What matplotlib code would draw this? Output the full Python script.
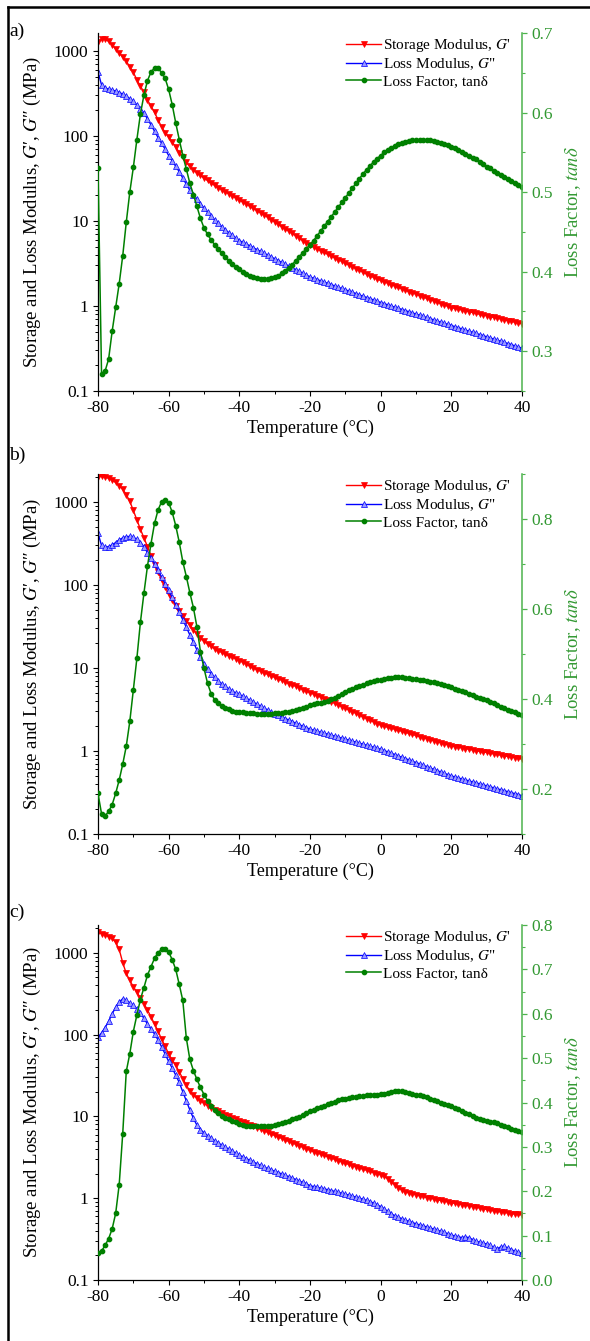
import matplotlib
matplotlib.use("Agg")
import matplotlib.pyplot as plt
from matplotlib.lines import Line2D
from matplotlib.ticker import FixedLocator, LogLocator, MultipleLocator, NullFormatter

plt.rcParams['font.family'] = ['Liberation Serif', 'DejaVu Serif']
plt.rcParams['mathtext.fontset'] = 'stix'
plt.rcParams['axes.unicode_minus'] = False

# temperature grid (deg C), one reading per degree
TEMP = list(range(-80, 41))

# ---- panel a) ----
STORAGE_A = [
    1280, 1370, 1380, 1300, 1180, 1060, 950, 850, 760, 650,
    560, 460, 385, 330, 265, 225, 190, 155, 128, 110,
    97, 85, 74, 64, 56, 49, 44, 40, 37, 34.5,
    32, 30, 28, 26.3, 24.8, 23.4, 22.1, 21.0, 19.8, 18.7,
    17.7, 16.7, 15.8, 14.9, 14.1, 13.3, 12.5, 11.8, 11.1, 10.4,
    9.8, 9.2, 8.6, 8.1, 7.6, 7.15, 6.7, 6.3, 5.9, 5.55,
    5.2, 4.95, 4.7, 4.48, 4.27, 4.07, 3.88, 3.7, 3.52, 3.35,
    3.19, 3.04, 2.9, 2.76, 2.63, 2.5, 2.38, 2.27, 2.17, 2.08,
    2.0, 1.93, 1.86, 1.79, 1.72, 1.66, 1.6, 1.54, 1.48, 1.43,
    1.38, 1.33, 1.28, 1.23, 1.19, 1.15, 1.11, 1.07, 1.03, 0.995,
    0.96, 0.94, 0.92, 0.9, 0.88, 0.86, 0.84, 0.82, 0.8, 0.785,
    0.77, 0.75, 0.735, 0.72, 0.705, 0.69, 0.675, 0.66, 0.645, 0.632,
    0.62]
LOSS_A = [
    570, 400, 370, 355, 348, 338, 325, 312, 295, 275,
    255, 232, 210, 185, 160, 135, 114, 96, 82, 70,
    59, 51, 44, 38, 32, 27, 23, 20.5, 18, 16,
    14.2, 12.7, 11.4, 10.3, 9.4, 8.6, 7.9, 7.3, 6.8, 6.3,
    5.9, 5.6, 5.35, 5.1, 4.85, 4.6, 4.4, 4.18, 3.98, 3.78,
    3.6, 3.43, 3.26, 3.1, 2.96, 2.81, 2.68, 2.55, 2.43, 2.31,
    2.2, 2.125, 2.05, 1.98, 1.915, 1.85, 1.785, 1.725, 1.665, 1.61,
    1.555, 1.5, 1.45, 1.4, 1.35, 1.305, 1.26, 1.22, 1.18, 1.14,
    1.1, 1.066, 1.033, 1.0, 0.97, 0.94, 0.91, 0.883, 0.856, 0.83,
    0.805, 0.78, 0.756, 0.733, 0.71, 0.688, 0.667, 0.646, 0.627, 0.608,
    0.59, 0.572, 0.555, 0.538, 0.522, 0.506, 0.491, 0.476, 0.462, 0.448,
    0.435, 0.422, 0.409, 0.397, 0.385, 0.373, 0.362, 0.351, 0.34, 0.33,
    0.32]
TAND_A = [
    0.53, 0.272, 0.275, 0.29, 0.325, 0.355, 0.385, 0.42, 0.462, 0.50,
    0.531, 0.566, 0.598, 0.622, 0.64, 0.651, 0.656, 0.656, 0.65, 0.643,
    0.629, 0.61, 0.587, 0.566, 0.546, 0.529, 0.511, 0.497, 0.482, 0.467,
    0.455, 0.447, 0.44, 0.434, 0.428, 0.423, 0.419, 0.414, 0.41, 0.406,
    0.403, 0.40, 0.397, 0.395, 0.393, 0.392, 0.391, 0.391, 0.391, 0.392,
    0.393, 0.395, 0.398, 0.401, 0.405, 0.409, 0.414, 0.419, 0.424, 0.429,
    0.434, 0.439, 0.445, 0.451, 0.457, 0.463, 0.469, 0.475, 0.481, 0.487,
    0.493, 0.499, 0.505, 0.511, 0.517, 0.523, 0.528, 0.533, 0.538, 0.542,
    0.546, 0.55, 0.553, 0.556, 0.558, 0.56, 0.562, 0.563, 0.564, 0.565,
    0.565, 0.566, 0.566, 0.565, 0.565, 0.564, 0.563, 0.562, 0.561, 0.559,
    0.557, 0.555, 0.553, 0.551, 0.548, 0.546, 0.543, 0.541, 0.538, 0.535,
    0.532, 0.53, 0.527, 0.524, 0.522, 0.519, 0.516, 0.514, 0.511, 0.509,
    0.506]

# ---- panel b) ----
STORAGE_B = [
    2020, 2030, 2000, 1930, 1830, 1720, 1580, 1420, 1230, 1020,
    790, 610, 470, 370, 290, 225, 175, 143, 116, 95,
    78, 66, 56, 48, 42, 37, 33, 29, 25.5, 23,
    21, 19.5, 18.2, 17.1, 16.2, 15.4, 14.7, 14.1, 13.5, 12.9,
    12.3, 11.7, 11.1, 10.5, 10.0, 9.55, 9.15, 8.75, 8.4, 8.05,
    7.7, 7.4, 7.1, 6.8, 6.5, 6.25, 6.0, 5.75, 5.5, 5.25,
    5.05, 4.85, 4.65, 4.45, 4.28, 4.1, 3.92, 3.75, 3.58, 3.42,
    3.27, 3.12, 2.98, 2.84, 2.71, 2.58, 2.46, 2.35, 2.24, 2.14,
    2.05, 1.99, 1.93, 1.88, 1.83, 1.78, 1.73, 1.68, 1.63, 1.58,
    1.54, 1.49, 1.45, 1.41, 1.37, 1.33, 1.29, 1.26, 1.22, 1.19,
    1.15, 1.13, 1.11, 1.09, 1.07, 1.05, 1.03, 1.01, 0.99, 0.975,
    0.96, 0.94, 0.925, 0.91, 0.89, 0.875, 0.86, 0.845, 0.83, 0.815,
    0.8]
LOSS_B = [
    420, 300, 285, 290, 305, 325, 350, 370, 382, 385,
    375, 355, 325, 290, 245, 210, 180, 150, 125, 104,
    86, 71, 58, 47, 38, 31, 25, 20.5, 16.5, 13.5,
    11.3, 9.6, 8.5, 7.7, 7.0, 6.45, 6.0, 5.6, 5.25, 5.0,
    4.8, 4.55, 4.3, 4.08, 3.87, 3.66, 3.47, 3.29, 3.12, 2.95,
    2.8, 2.68, 2.57, 2.46, 2.36, 2.26, 2.16, 2.07, 1.99, 1.91,
    1.83, 1.78, 1.73, 1.68, 1.64, 1.59, 1.55, 1.51, 1.47, 1.43,
    1.39, 1.35, 1.31, 1.28, 1.24, 1.21, 1.17, 1.14, 1.11, 1.08,
    1.05, 1.01, 0.975, 0.94, 0.905, 0.87, 0.84, 0.81, 0.78, 0.75,
    0.725, 0.7, 0.672, 0.648, 0.624, 0.602, 0.58, 0.558, 0.538, 0.519,
    0.5, 0.487, 0.473, 0.46, 0.448, 0.436, 0.424, 0.413, 0.402, 0.391,
    0.38, 0.37, 0.36, 0.35, 0.341, 0.332, 0.323, 0.314, 0.306, 0.298,
    0.29]
TAND_B = [
    0.19, 0.145, 0.14, 0.15, 0.165, 0.19, 0.22, 0.255, 0.295, 0.35,
    0.42, 0.49, 0.57, 0.635, 0.695, 0.745, 0.79, 0.82, 0.838, 0.843,
    0.836, 0.815, 0.785, 0.748, 0.705, 0.672, 0.636, 0.603, 0.56, 0.505,
    0.468, 0.435, 0.412, 0.398, 0.39, 0.384, 0.38, 0.377, 0.374, 0.372,
    0.371, 0.37, 0.369, 0.368, 0.368, 0.367, 0.367, 0.367, 0.367, 0.367,
    0.368, 0.368, 0.369, 0.37, 0.371, 0.373, 0.375, 0.377, 0.38, 0.383,
    0.386, 0.388, 0.39, 0.392, 0.394, 0.396, 0.399, 0.403, 0.407, 0.411,
    0.415, 0.419, 0.423, 0.426, 0.429, 0.432, 0.435, 0.437, 0.439, 0.441,
    0.443, 0.445, 0.446, 0.447, 0.448, 0.448, 0.448, 0.447, 0.446, 0.445,
    0.444, 0.443, 0.442, 0.44, 0.438, 0.437, 0.435, 0.433, 0.431, 0.429,
    0.426, 0.423, 0.42, 0.417, 0.415, 0.412, 0.408, 0.405, 0.402, 0.4,
    0.397, 0.394, 0.39, 0.386, 0.382, 0.379, 0.376, 0.373, 0.37, 0.367,
    0.364]

# ---- panel c) ----
STORAGE_C = [
    1780, 1720, 1660, 1580, 1500, 1350, 1100, 760, 560, 460,
    385, 330, 282, 240, 200, 165, 135, 110, 88, 72,
    58, 49, 42, 35, 29, 24, 20.5, 18.3, 16.7, 15.5,
    14.5, 13.6, 12.8, 12.1, 11.5, 11.0, 10.5, 10.1, 9.7, 9.3,
    8.9, 8.55, 8.2, 7.85, 7.55, 7.25, 6.95, 6.65, 6.4, 6.1,
    5.85, 5.6, 5.4, 5.15, 4.95, 4.75, 4.55, 4.37, 4.19, 4.02,
    3.85, 3.72, 3.59, 3.46, 3.34, 3.22, 3.1, 2.99, 2.88, 2.78,
    2.68, 2.59, 2.5, 2.42, 2.34, 2.27, 2.2, 2.13, 2.06, 2.0,
    1.93, 1.85, 1.74, 1.6, 1.46, 1.34, 1.26, 1.2, 1.16, 1.13,
    1.1, 1.07, 1.05, 1.02, 1.0, 0.98, 0.96, 0.94, 0.92, 0.9,
    0.88, 0.865, 0.85, 0.835, 0.82, 0.805, 0.79, 0.775, 0.76, 0.745,
    0.73, 0.715, 0.7, 0.69, 0.68, 0.67, 0.66, 0.65, 0.64, 0.635,
    0.625]
LOSS_C = [
    93, 105, 122, 145, 180, 215, 250, 275, 262, 245,
    228, 208, 185, 158, 135, 117, 102, 86, 71, 58,
    47, 39, 32, 26, 20, 15.5, 12, 9.5, 7.8, 6.9,
    6.3, 5.8, 5.4, 5.05, 4.75, 4.45, 4.2, 3.98, 3.75, 3.55,
    3.35, 3.2, 3.05, 2.9, 2.77, 2.64, 2.52, 2.4, 2.31, 2.22,
    2.14, 2.06, 1.98, 1.9, 1.83, 1.76, 1.69, 1.62, 1.56, 1.5,
    1.42, 1.39, 1.36, 1.33, 1.3, 1.27, 1.24, 1.21, 1.18, 1.15,
    1.12, 1.09, 1.06, 1.03, 1.0, 0.97, 0.94, 0.91, 0.87, 0.83,
    0.79, 0.74, 0.69, 0.645, 0.61, 0.585, 0.56, 0.54, 0.52, 0.503,
    0.487, 0.472, 0.459, 0.446, 0.433, 0.42, 0.407, 0.394, 0.381, 0.368,
    0.355, 0.345, 0.337, 0.33, 0.335, 0.33, 0.312, 0.298, 0.29, 0.282,
    0.275, 0.265, 0.25, 0.24, 0.255, 0.258, 0.245, 0.235, 0.225, 0.218,
    0.212]
TAND_C = [
    0.06, 0.065, 0.078, 0.093, 0.115, 0.15, 0.215, 0.33, 0.47, 0.51,
    0.56, 0.597, 0.632, 0.659, 0.687, 0.706, 0.725, 0.738, 0.745, 0.747,
    0.739, 0.722, 0.70, 0.666, 0.63, 0.545, 0.497, 0.472, 0.452, 0.434,
    0.418, 0.404, 0.393, 0.383, 0.376, 0.37, 0.366, 0.362, 0.358, 0.355,
    0.352, 0.35, 0.348, 0.347, 0.346, 0.346, 0.346, 0.346, 0.347, 0.348,
    0.349, 0.351, 0.353, 0.356, 0.359, 0.362, 0.365, 0.368, 0.372, 0.376,
    0.38, 0.383, 0.387, 0.39, 0.393, 0.396, 0.399, 0.402, 0.405, 0.407,
    0.409, 0.411, 0.412, 0.413, 0.414, 0.415, 0.416, 0.417, 0.418, 0.418,
    0.419, 0.42, 0.421, 0.423, 0.425, 0.426, 0.425, 0.424, 0.422, 0.42,
    0.418, 0.416, 0.414, 0.412, 0.409, 0.406, 0.403, 0.4, 0.397, 0.394,
    0.391, 0.388, 0.385, 0.381, 0.377, 0.373, 0.369, 0.366, 0.363, 0.361,
    0.359, 0.357, 0.355, 0.353, 0.35, 0.347, 0.344, 0.341, 0.338, 0.336,
    0.334]

X_TICKS = [-80, -60, -40, -20, 0, 20, 40]
G_TICKS = [0.1, 1, 10, 100, 1000]
G_TICK_LABELS = ['0.1', '1', '10', '100', '1000']
LEGEND_LABELS = ["Storage Modulus, $G$'", 'Loss Modulus, $G$"', 'Loss Factor, tanδ']

RED = '#ff0000'
BLUE = '#0000ff'
GREEN = '#008000'
AXIS_GREEN = '#4db34d'
TEXT_GREEN = '#339933'


def draw_panel(fig, rect, tag, tag_y, storage, loss, tand, g_top, t_lim, t_major, t_minor):
    ax = fig.add_axes(rect)
    ax2 = ax.twinx()

    l1, = ax.plot(TEMP, storage, color=RED, lw=1.0, marker='v', ms=4.0,
                  mfc=RED, mec=RED, mew=0.5)
    l2, = ax.plot(TEMP, loss, color=BLUE, lw=1.0, marker='^', ms=4.0,
                  mfc='#9a9aff', mec=BLUE, mew=0.5)
    l3, = ax2.plot(TEMP, tand, color=GREEN, lw=1.1, marker='o', ms=3.1,
                   mfc=GREEN, mec=GREEN)

    ax.set_yscale('log')
    ax.set_xlim(-80, 40)
    ax.set_ylim(0.1, g_top)
    ax2.set_ylim(*t_lim)

    ax.xaxis.set_major_locator(FixedLocator(X_TICKS))
    ax.xaxis.set_minor_locator(MultipleLocator(10))
    ax.yaxis.set_major_locator(FixedLocator(G_TICKS))
    ax.set_yticklabels(G_TICK_LABELS)
    ax.yaxis.set_minor_locator(LogLocator(base=10, subs=[2, 3, 4, 5, 6, 7, 8, 9]))
    ax.yaxis.set_minor_formatter(NullFormatter())
    ax2.yaxis.set_major_locator(MultipleLocator(t_major))
    ax2.yaxis.set_minor_locator(MultipleLocator(t_minor))

    for a in (ax, ax2):
        a.spines['top'].set_visible(False)
    ax.spines['right'].set_visible(False)
    ax2.spines['left'].set_visible(False)
    ax2.spines['bottom'].set_visible(False)
    ax2.spines['right'].set_color(AXIS_GREEN)
    ax2.spines['right'].set_linewidth(1.1)
    ax.spines['left'].set_linewidth(0.9)
    ax.spines['bottom'].set_linewidth(0.9)

    ax.tick_params(which='major', direction='out', length=3.8, width=0.8,
                   labelsize=12.5, pad=3)
    ax.tick_params(which='minor', direction='out', length=2.2, width=0.7)
    ax2.tick_params(which='major', direction='out', length=3.8, width=0.9,
                    colors=AXIS_GREEN, labelcolor=TEXT_GREEN, labelsize=12.5, pad=3)
    ax2.tick_params(which='minor', direction='out', length=2.2, width=0.8,
                    colors=AXIS_GREEN)

    ax.set_xlabel('Temperature (°C)', fontsize=13, labelpad=2)
    ax.set_ylabel("Storage and Loss Modulus, $G$′, $G$″ (MPa)", fontsize=13.5)
    ax.yaxis.set_label_coords(-0.13, 0.5)
    ax2.set_ylabel(r'Loss Factor, $tan\delta$', fontsize=13.5, color=TEXT_GREEN)
    ax2.yaxis.set_label_coords(1.098, 0.5)

    ax2.legend([l1, l2, l3], LEGEND_LABELS,
               loc='upper right', bbox_to_anchor=(0.988, 1.005), frameon=False,
               fontsize=11, handlelength=2.3, handletextpad=0.15,
               labelspacing=0.15, borderaxespad=0)

    fig.text(0.016, tag_y, tag, fontsize=14, va='center', ha='left')


def main():
    fig = plt.figure(figsize=(5.9, 13.41), dpi=100)

    draw_panel(fig, [0.1661, 0.7084, 0.7186, 0.2670], 'a)', 0.9769,
               STORAGE_A, LOSS_A, TAND_A, 1630, (0.25, 0.7), 0.1, 0.05)
    draw_panel(fig, [0.1661, 0.3781, 0.7186, 0.2685], 'b)', 0.6607,
               STORAGE_B, LOSS_B, TAND_B, 2180, (0.1, 0.9), 0.2, 0.1)
    draw_panel(fig, [0.1661, 0.0455, 0.7186, 0.2647], 'c)', 0.3199,
               STORAGE_C, LOSS_C, TAND_C, 2190, (0.0, 0.8), 0.1, 0.05)

    # outer frame lines (left and top)
    fig.add_artist(Line2D([0.0136, 0.0136], [0.0, 0.9948], transform=fig.transFigure,
                          color='black', lw=1.8))
    fig.add_artist(Line2D([0.0136, 1.0], [0.9948, 0.9948], transform=fig.transFigure,
                          color='black', lw=1.8))

    fig.savefig('out.png', dpi=100)


if __name__ == "__main__":
    main()
